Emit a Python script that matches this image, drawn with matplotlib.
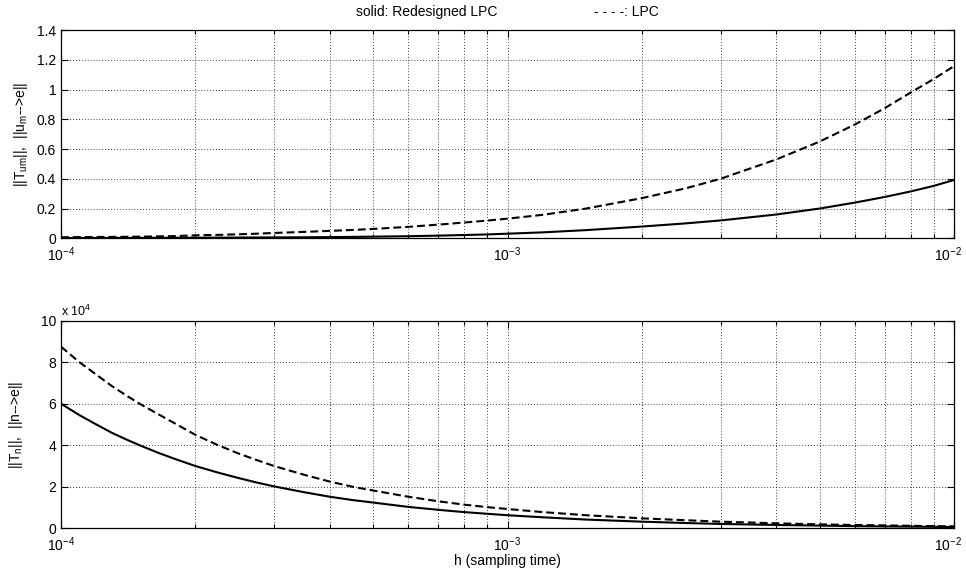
import matplotlib
matplotlib.use("Agg")
import matplotlib.pyplot as plt
import matplotlib.transforms as mtransforms
from matplotlib.ticker import LogLocator, FixedLocator, FixedFormatter, NullFormatter

plt.rcParams['font.family'] = ['Liberation Sans', 'DejaVu Sans']
plt.rcParams['mathtext.fontset'] = 'custom'
plt.rcParams['mathtext.rm'] = 'Liberation Sans'
plt.rcParams['mathtext.it'] = 'Liberation Sans'
plt.rcParams['mathtext.default'] = 'regular'

# sampling time grid
h = [1e-4, 1.1e-4, 1.2e-4, 1.3e-4, 1.4e-4, 1.5e-4, 1.65e-4, 1.8e-4, 2e-4,
     2.25e-4, 2.5e-4, 2.75e-4, 3e-4, 3.5e-4, 4e-4, 4.5e-4, 5e-4, 6e-4, 7e-4,
     8e-4, 9e-4, 1e-3, 1.2e-3, 1.5e-3, 2e-3, 2.5e-3, 3e-3, 4e-3, 5e-3, 6e-3,
     7e-3, 8e-3, 9e-3, 1e-2]

# ||T_um|| : redesigned LPC (solid) and LPC (dashed)
tum_redesigned = [0.002, 0.002, 0.0023, 0.0025, 0.0027, 0.003, 0.0033, 0.0036,
                  0.004, 0.0045, 0.005, 0.0055, 0.006, 0.007, 0.008, 0.0095,
                  0.011, 0.014, 0.018, 0.022, 0.026, 0.031, 0.040, 0.055, 0.079,
                  0.100, 0.120, 0.160, 0.200, 0.240, 0.278, 0.315, 0.352, 0.392]
tum_lpc = [0.007, 0.008, 0.009, 0.0095, 0.010, 0.011, 0.013, 0.015, 0.020,
           0.023, 0.027, 0.031, 0.036, 0.043, 0.050, 0.056, 0.063, 0.077, 0.092,
           0.106, 0.119, 0.132, 0.158, 0.200, 0.270, 0.335, 0.400, 0.530, 0.650,
           0.765, 0.875, 0.980, 1.070, 1.157]

# ||T_n|| : redesigned LPC (solid) and LPC (dashed)
tn_redesigned = [60000, 54500, 50000, 46000, 42800, 40000, 36400, 33400, 30000,
                 26800, 24200, 22000, 20200, 17400, 15200, 13600, 12400, 10300,
                 8900, 7800, 7000, 6300, 5300, 4200, 3200, 2550, 2100, 1600, 1300,
                 1050, 900, 800, 700, 630]
tn_lpc = [87500, 80000, 74000, 68500, 64000, 60000, 55000, 50500, 45000, 40000,
          36000, 32800, 30000, 25800, 22500, 20000, 18200, 15200, 13000, 11400,
          10200, 9300, 7800, 6300, 4800, 3900, 3200, 2400, 1900, 1600, 1400,
          1200, 1050, 950]

x_ticks = [1e-4, 1e-3, 1e-2]
x_ticklabels = ['10$^{-4}$', '10$^{-3}$', '10$^{-2}$']
top_yticks = [0, 0.2, 0.4, 0.6, 0.8, 1, 1.2, 1.4]
top_yticklabels = ['0', '0.2', '0.4', '0.6', '0.8', '1', '1.2', '1.4']
bot_scale = 1e4
bot_yticks = [0, 2, 4, 6, 8, 10]

FS = 10
W, H = 966, 569
fig = plt.figure(figsize=(W / 100, H / 100), dpi=100)
fig.patch.set_facecolor('white')

ax1 = fig.add_axes([61 / W, 1 - 238.3 / H, (954 - 61) / W, 208.3 / H])
ax2 = fig.add_axes([61 / W, 1 - 528.3 / H, (954 - 61) / W, 207.6 / H])

dash = (3.8, 1.9)
lw = 1.5

ax1.plot(h, tum_redesigned, color='black', lw=lw)
ax1.plot(h, tum_lpc, color='black', lw=lw, dashes=dash)
ax2.plot(h, [v / bot_scale for v in tn_redesigned], color='black', lw=lw)
ax2.plot(h, [v / bot_scale for v in tn_lpc], color='black', lw=lw, dashes=dash)

for ax in (ax1, ax2):
    ax.set_xscale('log')
    ax.set_xlim(1e-4, 1e-2)
    ax.xaxis.set_major_locator(FixedLocator(x_ticks))
    ax.xaxis.set_major_formatter(FixedFormatter(x_ticklabels))
    ax.xaxis.set_minor_locator(LogLocator(base=10, subs=range(2, 10)))
    ax.xaxis.set_minor_formatter(NullFormatter())
    ax.grid(True, which='major', axis='both', linestyle=(0, (1, 2.5)),
            color='black', lw=0.6)
    ax.grid(True, which='minor', axis='x', linestyle=(0, (1, 2.5)),
            color='black', lw=0.6)
    ax.tick_params(which='both', direction='in', top=True, right=True,
                   labelsize=FS, colors='black', width=0.8)
    ax.tick_params(which='major', length=5)
    ax.tick_params(which='minor', length=3)
    ax.tick_params(axis='x', pad=5)
    for s in ax.spines.values():
        s.set_linewidth(0.9)
        s.set_color('black')
    ax.set_axisbelow(True)

# pull the right-most decade label slightly inside the figure edge
shift = mtransforms.ScaledTranslation(-6 / 100, 0, fig.dpi_scale_trans)
for ax in (ax1, ax2):
    lbl = ax.xaxis.get_majorticklabels()[-1]
    lbl.set_transform(lbl.get_transform() + shift)

ax1.set_ylim(0, 1.4)
ax1.set_yticks(top_yticks)
ax1.set_yticklabels(top_yticklabels)
ax1.set_ylabel('||T$_{um}$||,  ||u$_m$-->e||', fontsize=FS, labelpad=5)

ax2.set_ylim(0, 10)
ax2.set_yticks(bot_yticks)
ax2.set_yticklabels([str(t) for t in bot_yticks])
ax2.set_ylabel('||T$_n$||,  ||n-->e||', fontsize=FS, labelpad=11)
ax2.set_xlabel('h (sampling time)', fontsize=FS, labelpad=0)
ax2.text(0.0, 1.01, 'x 10$^4$', transform=ax2.transAxes, fontsize=FS * 0.9,
         ha='left', va='bottom')

fig.text(427 / W, 1 - 12 / H, 'solid: Redesigned LPC', fontsize=FS,
         ha='center', va='center')
fig.text(626 / W, 1 - 12 / H, '- - - -: LPC', fontsize=FS,
         ha='center', va='center')

fig.savefig('out.png', dpi=100)
